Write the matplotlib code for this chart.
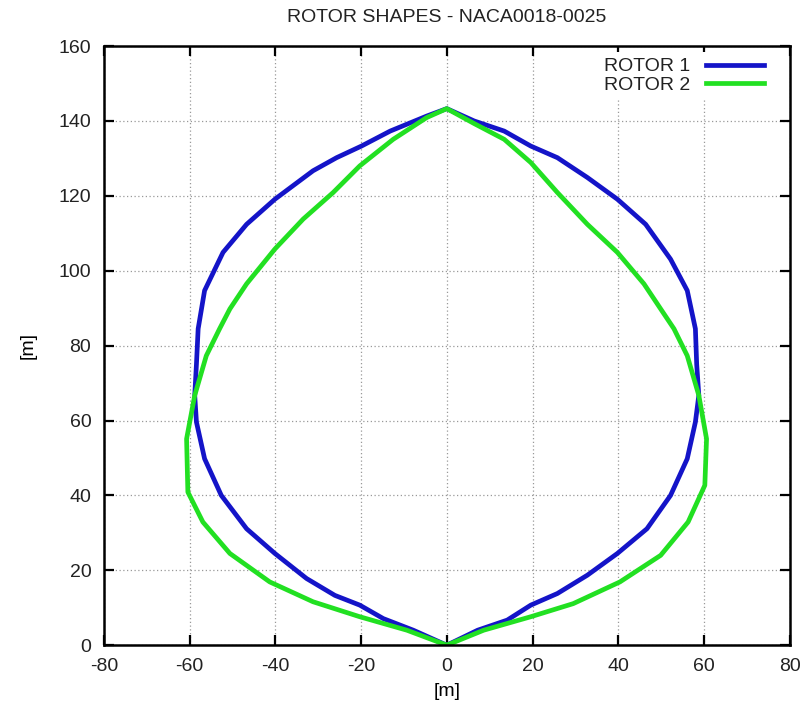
import matplotlib.pyplot as plt

# rotor outlines, traced counter-clockwise from the root at (0, 0)
rotor1_x = [0, 7.2, 14.1, 19.6, 25.8, 32.8, 39.8, 46.7, 52.2, 56.1, 58.0, 58.8, 58.3, 58.0,
            56.1, 52.2, 46.4, 39.8, 32.8, 25.8, 19.6, 13.4, 6.4, 0,
            -4.7, -13.2, -19.9, -25.7, -31.2, -40.1, -46.7, -52.2, -56.5, -58.0, -58.4,
            -58.8, -58.4, -56.5, -52.6, -46.7, -40.1, -32.7, -26.1, -20.3, -14.8, -7.8, 0]
rotor1_y = [0, 4.0, 6.7, 10.7, 13.8, 18.7, 24.5, 31.1, 40.0, 49.8, 59.6, 66.7, 75.0, 84.5,
            94.7, 103.1, 112.4, 119.1, 124.9, 130.2, 133.3, 137.3, 140.0, 143.3,
            141.3, 137.3, 133.3, 130.2, 126.7, 119.1, 112.4, 104.9, 94.7, 84.5, 75.0,
            66.7, 59.6, 49.8, 40.0, 31.1, 24.5, 17.8, 13.3, 10.7, 7.1, 4.0, 0]

rotor2_x = [0, 8.6, 19.6, 29.5, 40.4, 49.9, 56.3, 60.2, 60.6, 58.8, 56.1, 53.0, 49.9, 46.0,
            39.8, 32.8, 25.8, 19.6, 13.4, 6.4, 0,
            -4.7, -12.5, -20.3, -26.5, -33.5, -40.1, -46.7, -50.6, -53.0, -56.1, -58.8,
            -60.7, -60.4, -56.9, -50.6, -41.3, -31.2, -20.3, -9.3, 0]
rotor2_y = [0, 4.0, 7.6, 11.1, 16.9, 24.0, 32.9, 42.7, 55.1, 66.7, 77.3, 84.5, 89.8, 96.5,
            104.9, 112.4, 120.9, 128.9, 135.1, 139.3, 143.3,
            140.9, 135.1, 128.0, 120.9, 113.8, 105.8, 96.5, 89.8, 84.5, 77.3, 66.7,
            55.1, 40.9, 32.9, 24.5, 16.9, 11.6, 7.6, 4.0, 0]

plt.rcParams['font.family'] = ['Liberation Sans', 'DejaVu Sans']
plt.rcParams['font.size'] = 14
plt.rcParams['axes.unicode_minus'] = False
plt.rcParams['text.color'] = '#222222'
plt.rcParams['xtick.labelcolor'] = '#222222'
plt.rcParams['ytick.labelcolor'] = '#222222'

fig = plt.figure(figsize=(8.05, 7.09), dpi=100)
ax = fig.add_axes([0.129, 0.090, 0.852, 0.845])

ax.plot(rotor1_x, rotor1_y, color='#1414c8', lw=3.4, label='ROTOR 1', solid_joinstyle='round')
ax.plot(rotor2_x, rotor2_y, color='#22e022', lw=3.4, label='ROTOR 2', solid_joinstyle='round')

ax.set_xlim(-80, 80)
ax.set_ylim(0, 160)
ax.set_xticks(range(-80, 81, 20))
ax.set_yticks(range(0, 161, 20))

ax.set_title('ROTOR SHAPES - NACA0018-0025', fontsize=14, pad=17)
ax.set_xlabel('[m]', labelpad=6)
ax.set_ylabel('[m]', labelpad=16)

# gnuplot-ish frame: inward ticks on every side, dotted grid
ax.tick_params(direction='in', length=7, width=1.6, top=True, right=True, pad=9, labelsize=14)
for sp in ax.spines.values():
    sp.set_linewidth(1.8)
ax.grid(True, color='#999999', linestyle=(0, (1, 2)), linewidth=0.9)

leg = ax.legend(loc='upper right', bbox_to_anchor=(0.98, 1.0), markerfirst=False,
                handlelength=3.0, handletextpad=0.8, borderaxespad=0.3, labelspacing=0.05,
                frameon=True, fancybox=False, borderpad=0.3)
leg.get_frame().set_edgecolor('none')
leg.get_frame().set_facecolor('white')
leg.get_frame().set_alpha(1)

plt.savefig('out.png', dpi=100)
